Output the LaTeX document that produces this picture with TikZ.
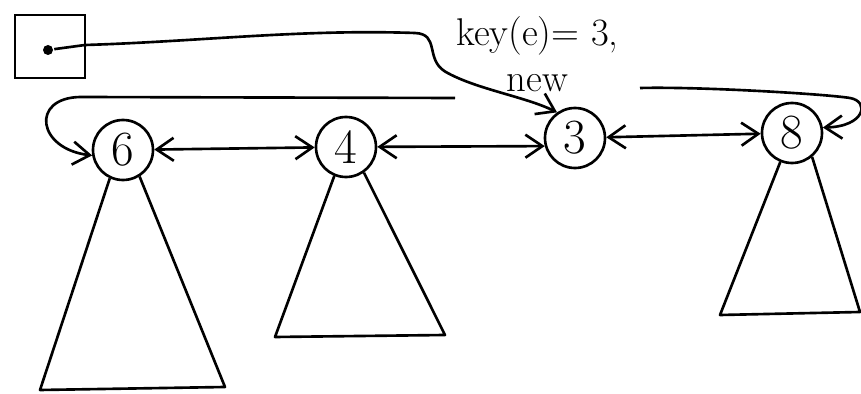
\documentclass[tikz,border=0pt]{standalone}
\usepackage{amsfonts, amssymb, amsmath}
\usepackage{tikz}
\usetikzlibrary{arrows.meta}

\begin{document}
\begin{tikzpicture}[
    line width=1.5pt,
    rootnode/.style={circle, draw, minimum size=1.2cm, inner sep=0pt, font=\fontsize{28}{30}\selectfont},
    tree/.style={line join=round},
    link/.style={-{Straight Barb[length=3.4mm, width=4.6mm]}},
    dlink/.style={{Straight Barb[length=3.4mm, width=4.6mm]}-{Straight Barb[length=3.4mm, width=4.6mm]}}
]
    \useasboundingbox (0,0) rectangle (17.22,7.88);

    % Draw the min pointer cell
    \draw (0.30,6.32) rectangle (1.70,7.58);
    \node[circle, fill, inner sep=0pt, minimum size=0.2cm] (ptr) at (0.96,6.88) {};

    % Draw the roots
    \node[rootnode] (n6) at (2.46,4.88) {6};
    \node[rootnode] (n4) at (6.92,4.94) {4};
    \node[rootnode] (n3) at (11.50,5.12) {3};
    \node[rootnode] (n8) at (15.84,5.22) {8};

    % Draw the subtrees under the roots
    \draw[tree] (n6.-115) -- (0.80,0.08) -- (4.50,0.14) -- (n6.-58);
    \draw[tree] (n4.-112) -- (5.50,1.14) -- (8.90,1.18) -- (n4.-55);
    \draw[tree] (n8.-112) -- (14.40,1.58) -- (17.20,1.64) -- (n8.-50);

    % The label of the new root
    \node[align=center, font=\fontsize{22}{26}\selectfont] (lbl) at (10.75,6.80) {key(e)= 3,\\ new};

    % Doubly linked root list
    \draw[dlink] (n6) -- (n4);
    \draw[dlink] (n4) -- (n3.195);
    \draw[dlink] (n3) -- (n8);

    % Wrap around links, broken at the label
    \coordinate (wrapL) at (9.10,5.92);
    \coordinate (wrapR) at (12.80,6.12);
    \draw[link] (wrapL) -- (1.60,5.94) .. controls (0.60,5.92) and (0.75,4.90) .. (n6.190);
    \draw[link] (wrapR) .. controls (14.00,6.15) and (16.50,6.00) .. (17.00,5.92)
        .. controls (17.40,5.85) and (17.30,5.35) .. (n8.10);

    % Min pointer goes to the new root
    \draw[link] (ptr) -- (1.70,6.98) .. controls (4.00,7.05) and (6.00,7.30) .. (8.30,7.22)
        .. controls (8.80,7.20) and (8.50,6.70) .. (8.90,6.45)
        .. controls (9.50,6.10) and (10.50,5.95) .. (n3.125);
\end{tikzpicture}
\end{document}
